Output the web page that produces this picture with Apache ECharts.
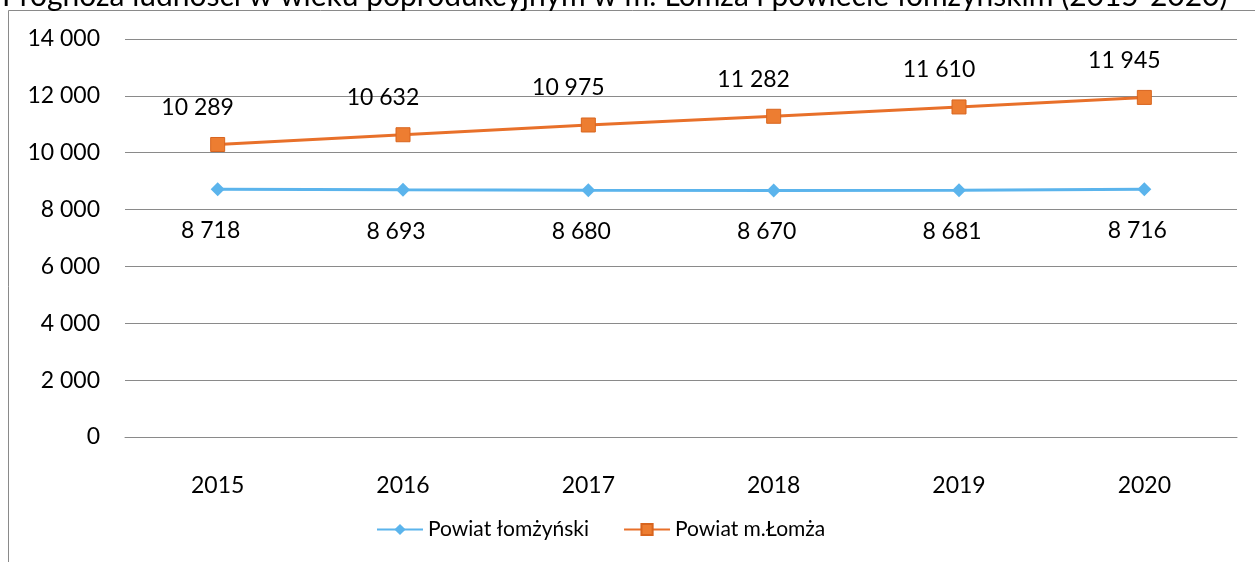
<!DOCTYPE html>
<html>
<head>
<meta charset="utf-8">
<script src="https://cdn.jsdelivr.net/npm/echarts@6/dist/echarts.min.js"></script>
<style>
  html, body { margin: 0; padding: 0; background: #fff; }
  #main { width: 1255px; height: 562px; }
</style>
</head>
<body>
<div id="main"></div>
<script>
var years = ['2015', '2016', '2017', '2018', '2019', '2020'];
var powiatLomzynski = [8718, 8693, 8680, 8670, 8681, 8716];
var powiatLomza = [10289, 10632, 10975, 11282, 11610, 11945];
var yTicks = [0, 2000, 4000, 6000, 8000, 10000, 12000, 14000];

var FONT = 'Lato';

function spaced(v) {
    return String(v).replace(/\B(?=(\d{3})+(?!\d))/g, ' ');
}

var chart = echarts.init(document.getElementById('main'));
chart.setOption({
    backgroundColor: '#fff',
    animation: false,
    title: {
        text: 'Prognoza ludności w wieku poprodukcyjnym w m. Łomża i powiecie łomżyńskim (2015-2020)',
        left: -3,
        top: -24,
        textStyle: { fontFamily: FONT, fontSize: 30, fontWeight: 'normal', color: '#000' }
    },
    graphic: [{
        type: 'rect',
        shape: { x: 8.5, y: 10.5, width: 1400, height: 700 },
        style: { fill: 'none', stroke: '#8a8a8a', lineWidth: 1 },
        silent: true
    }],
    legend: {
        bottom: 17,
        left: 371,
        itemWidth: 46,
        itemHeight: 14,
        itemGap: 34,
        textStyle: { fontFamily: FONT, fontSize: 21, color: '#000' },
        data: ['Powiat łomżyński', 'Powiat m.Łomża']
    },
    grid: { left: 125, right: 18, top: 39, bottom: 125 },
    xAxis: {
        type: 'category',
        data: years,
        axisLine: { lineStyle: { color: '#8a8a8a' } },
        axisTick: { show: false },
        axisLabel: { fontFamily: FONT, fontSize: 23, color: '#000', margin: 37 }
    },
    yAxis: {
        type: 'value',
        min: yTicks[0],
        max: yTicks[yTicks.length - 1],
        interval: 2000,
        axisLine: { show: false },
        axisTick: { show: false },
        splitLine: { lineStyle: { color: '#8a8a8a', width: 1 } },
        axisLabel: {
            fontFamily: FONT, fontSize: 23, color: '#000', margin: 25,
            formatter: function (v) { return spaced(v); }
        }
    },
    series: [
        {
            name: 'Powiat łomżyński',
            type: 'line',
            data: powiatLomzynski,
            symbol: 'diamond',
            symbolSize: 14,
            color: '#5BB4EC',
            lineStyle: { width: 3, color: '#5BB4EC' },
            itemStyle: { color: '#5BB4EC' },
            label: {
                show: true,
                position: 'bottom',
                distance: 23,
                offset: [-7, 0],
                fontFamily: FONT, fontSize: 23, color: '#000',
                formatter: function (p) { return spaced(p.value); }
            }
        },
        {
            name: 'Powiat m.Łomża',
            type: 'line',
            data: powiatLomza,
            symbol: 'rect',
            symbolSize: 14,
            color: '#ED7D31',
            lineStyle: { width: 3, color: '#E8702A' },
            itemStyle: { color: '#ED7D31', borderColor: '#D8651F', borderWidth: 1 },
            label: {
                show: true,
                position: 'top',
                distance: 18,
                offset: [-20, 0],
                fontFamily: FONT, fontSize: 23, color: '#000',
                formatter: function (p) { return spaced(p.value); }
            }
        }
    ]
});
</script>
</body>
</html>
